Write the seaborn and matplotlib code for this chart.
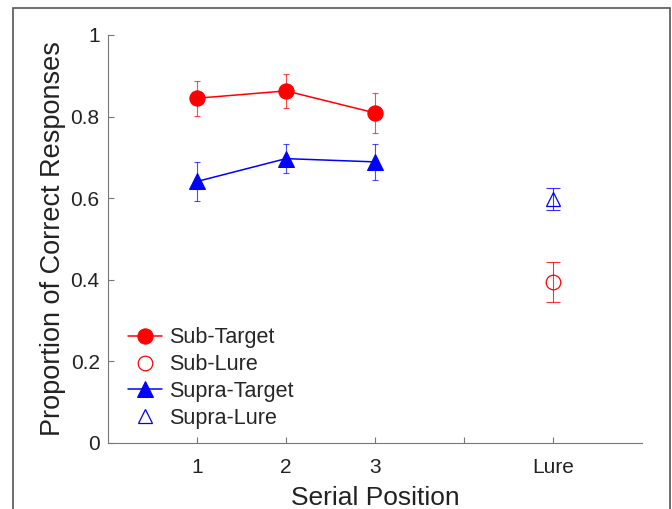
import matplotlib
matplotlib.use("Agg")
import matplotlib.pyplot as plt
import seaborn as sns
import pandas as pd
from matplotlib.patches import Rectangle

# data
positions = [1, 2, 3]
lure_pos = [5]
sub_target = [0.845, 0.863, 0.809]
sub_target_err = [0.043, 0.041, 0.050]
supra_target = [0.641, 0.697, 0.689]
supra_target_err = [0.048, 0.036, 0.045]
sub_lure = [0.394]
sub_lure_err = [0.049]
supra_lure = [0.598]
supra_lure_err = [0.026]
tick_pos = [1, 2, 3, 4, 5]
tick_labels = ['1', '2', '3', '', 'Lure']

sns.set_style("white")
plt.rcParams['font.family'] = ['Liberation Sans', 'DejaVu Sans']

fig = plt.figure(figsize=(6.72, 5.09), dpi=100)
ax = fig.add_axes([108/672, 66/509, (642-108)/672, (443-35)/509])

red = '#ff0000'
blue = '#0000ff'

df_sub = pd.DataFrame({'pos': positions, 'val': sub_target})
df_supra = pd.DataFrame({'pos': positions, 'val': supra_target})

# error bars first (thin, lighter)
ax.errorbar(positions, sub_target, yerr=sub_target_err, fmt='none',
            ecolor=red, elinewidth=0.8, capsize=2.5, capthick=0.8, alpha=0.7)
ax.errorbar(positions, supra_target, yerr=supra_target_err, fmt='none',
            ecolor=blue, elinewidth=0.8, capsize=2.5, capthick=0.8, alpha=0.7)
ax.errorbar(lure_pos, sub_lure, yerr=sub_lure_err, fmt='none',
            ecolor=red, elinewidth=0.8, capsize=5, capthick=0.8, alpha=0.8)
ax.errorbar(lure_pos, supra_lure, yerr=supra_lure_err, fmt='none',
            ecolor=blue, elinewidth=0.8, capsize=5, capthick=0.8, alpha=0.8)

sns.lineplot(data=df_sub, x='pos', y='val', ax=ax, color=red, marker='o',
             markersize=11, markeredgecolor=red, linewidth=1.1, label='Sub-Target')
sns.lineplot(x=lure_pos, y=sub_lure, ax=ax, color=red, marker='o', markersize=10.5,
             markerfacecolor='none', markeredgecolor=red, markeredgewidth=0.9,
             linestyle='none', label='Sub-Lure')
sns.lineplot(data=df_supra, x='pos', y='val', ax=ax, color=blue, marker='^',
             markersize=11, markeredgecolor=blue, linewidth=1.1, label='Supra-Target')
sns.lineplot(x=lure_pos, y=supra_lure, ax=ax, color=blue, marker='^', markersize=10.5,
             markerfacecolor='none', markeredgecolor=blue, markeredgewidth=0.9,
             linestyle='none', label='Supra-Lure')

ax.set_xlim(0, 6)
ax.set_ylim(0, 1)
ax.set_xticks(tick_pos)
ax.set_xticklabels(tick_labels)
ax.set_yticks([0, 0.2, 0.4, 0.6, 0.8, 1])
ax.set_yticklabels(['0', '0.2', '0.4', '0.6', '0.8', '1'])
ax.tick_params(direction='in', length=4, width=0.8, color='#777777',
               labelsize=15, labelcolor='#222222', left=True, bottom=True)
ax.tick_params(axis='x', pad=11)
ax.tick_params(axis='y', pad=6)
ax.set_xlabel('Serial Position', fontsize=19, color='#222222', labelpad=6)
ax.set_ylabel('Proportion of Correct Responses', fontsize=19.5, color='#222222', labelpad=3)
for side in ['top', 'right']:
    ax.spines[side].set_visible(False)
for side in ['left', 'bottom']:
    ax.spines[side].set_color('#777777')
    ax.spines[side].set_linewidth(0.8)

leg = ax.legend(loc='lower left', bbox_to_anchor=(20/534, 0.035), frameon=False,
                fontsize=15.5, handlelength=1.6, handletextpad=0.3,
                labelspacing=0.27, borderaxespad=0, borderpad=0)

# outer frame of the cropped figure
fig.add_artist(Rectangle((13/672, -0.1), (670-13)/672, 1.1 - 8/509,
                         transform=fig.transFigure, fill=False,
                         edgecolor='#555555', linewidth=1.2))

fig.savefig('out.png', dpi=100)
